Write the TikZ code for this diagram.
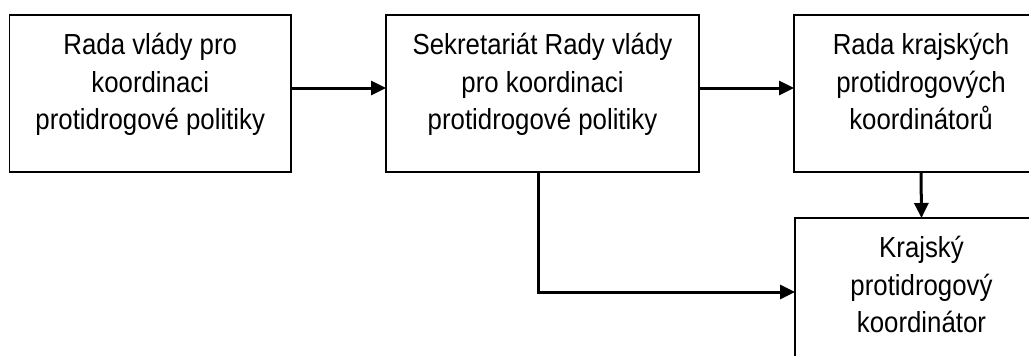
\documentclass[tikz,border=0pt]{standalone}
\usepackage{fontspec}
\setmainfont{Liberation Sans}[FakeStretch=0.89]
\usetikzlibrary{arrows.meta}
\tikzset{
  orgbox/.style={draw=black, line width=1.5pt, rectangle, inner sep=0pt, outer sep=0pt, anchor=north west},
  conn/.style={line width=3pt, -{Triangle[length=15pt,width=14pt]}}
}
\newcommand{\boxtext}[3]{\parbox[c][#2pt][t]{#1pt}{\centering\fontsize{29pt}{37.7pt}\selectfont\rule{0pt}{39.5pt}#3\par}}
\begin{document}
\begin{tikzpicture}[x=1pt,y=-1pt]
\useasboundingbox (0,0) rectangle (1029,356);
\clip (0,0) rectangle (1029,356);
\node[orgbox] (b1) at (9.5,15) {\boxtext{281.5}{157}{Rada vlády pro\\koordinaci\\protidrogové politiky}};
\node[orgbox] (b2) at (386,15) {\boxtext{313}{157}{Sekretariát Rady vlády\\pro koordinaci\\protidrogové politiky}};
\node[orgbox] (b3) at (794,15) {\boxtext{254}{157}{Rada krajských\\protidrogových\\koordinátorů}};
\node[orgbox] (b4) at (795,218) {\boxtext{253}{157}{Krajský\\protidrogový\\koordinátor}};
\draw[conn] ([yshift=5.5pt]b1.east) -- ([yshift=5.5pt]b2.west);
\draw[conn] ([yshift=5.5pt]b2.east) -- ([yshift=5.5pt]b3.west);
\draw[conn] (b3.south) -- (b4.north);
\draw[conn] ([xshift=-4.5pt]b2.south) |- ([yshift=4.5pt]b4.west);
\end{tikzpicture}
\end{document}
